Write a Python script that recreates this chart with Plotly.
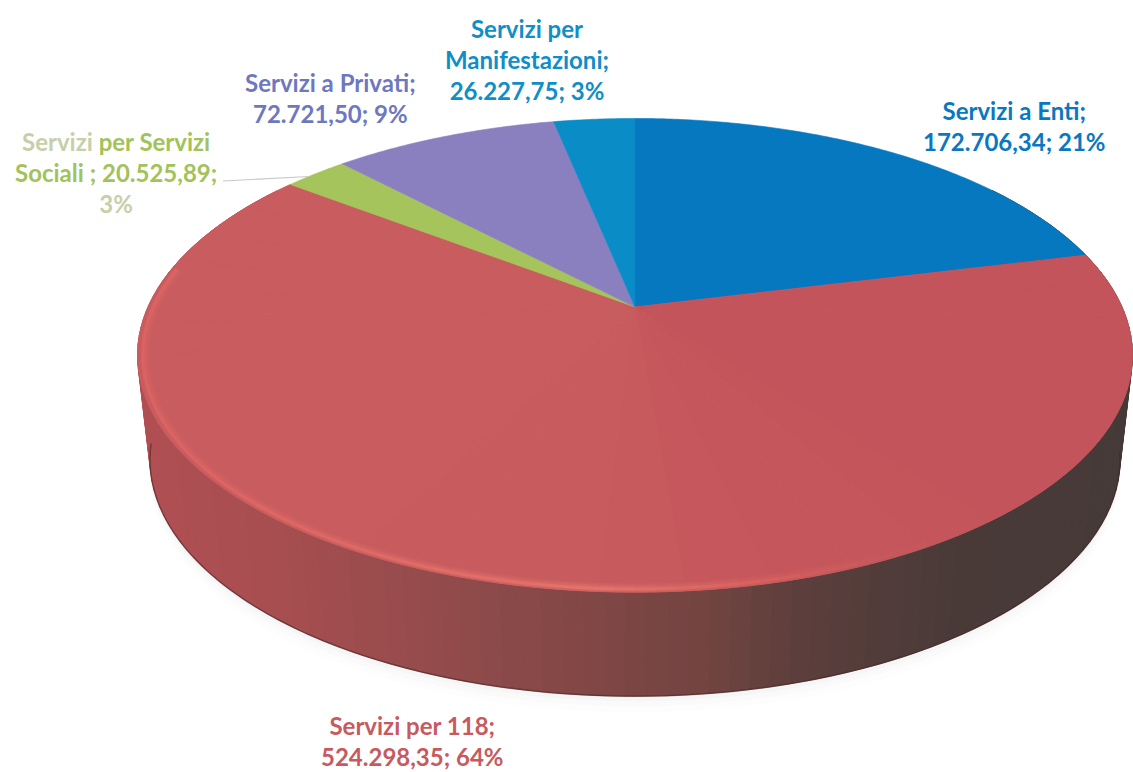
import numpy as np
import plotly.graph_objects as go

# ---- data ----
categories = ["Servizi a Enti", "Servizi per 118", "Servizi per Servizi Sociali ",
              "Servizi a Privati", "Servizi per Manifestazioni"]
values = [172706.34, 524298.35, 20525.89, 72721.50, 26227.75]
percent_labels = ["21%", "64%", "3%", "9%", "3%"]
slice_colors = ["#0578c0", "#c75a5e", "#a6c45c", "#8a80c0", "#0a8cc6"]
label_colors = ["#0a78c0", "#c75a5e", "#a2c25a", "#6d78c0", "#0f8ec8"]

# ---- layout of the tilted disc (pixels) ----
W, H = 1133, 772
CX, CY = 635, 307          # apex
RX, RY, PERSP = 487, 227, 0.204
DEPTH, BOTTOM_SCALE = 104, 0.975

wall_stops_x = [130, 300, 500, 700, 800, 950, 1133]
wall_stops_c = [(178, 80, 84), (165, 78, 80), (140, 74, 74), (116, 68, 65),
                (92, 63, 60), (74, 59, 57), (70, 58, 56)]
surface_stops_x = [135, 600, 900, 1133]
surface_stops_c = [(201, 93, 95), (199, 91, 94), (197, 86, 92), (196, 84, 91)]
rim_stops_x = [135, 300, 600, 760, 880]
rim_stops_c = [(224, 102, 102), (228, 108, 104), (238, 124, 110), (222, 100, 96), (199, 90, 94)]


def rim(t_deg, inset=1.0):
    t = np.radians(np.asarray(t_deg, dtype=float))
    u, v = np.sin(t), np.cos(t)
    d = 1 + PERSP * v
    return CX + inset * RX * u / d, CY - inset * RY * v / d


def lower(x, y):
    return CX + BOTTOM_SCALE * (x - CX), y + DEPTH


def mix(x, xs, cs):
    return tuple(np.interp(x, xs, [c[i] for c in cs]) for i in range(3))


def css(c):
    return "rgb(%d,%d,%d)" % tuple(c)


fig = go.Figure()


def add(x, y, color, width=0, fill=True):
    fig.add_trace(go.Scatter(
        x=np.asarray(x), y=np.asarray(y), mode="lines", hoverinfo="skip", showlegend=False,
        fill="toself" if fill else None, fillcolor=color if fill else None,
        line=dict(color=color, width=width, simplify=False)))


# soft shadow under the disc
tt = np.linspace(100, 262, 101)
for grow, alpha in [(16, .012), (10, .016), (5, .02)]:
    xb, yb = lower(*rim(tt))
    add(xb, yb + grow, "rgba(60,70,60,%s)" % alpha)

# side wall as narrow strips shaded from left to right
edges = np.linspace(55, 305, 126)
for a, b in zip(edges[:-1], edges[1:]):
    xt, yt = rim([a, b])
    xl, yl = lower(xt, yt)
    col = css(mix((xt.mean() + xl.mean()) / 2, wall_stops_x, wall_stops_c))
    add([xt[0], xt[1], xl[1], xl[0], xt[0]], [yt[0], yt[1], yl[1], yl[0], yt[0]], col, 1)

# dark lower edge
xb, yb = lower(*rim(np.linspace(100, 262, 100)))
add(xb, yb, "rgba(70,35,35,0.55)", 1.5, fill=False)

# top surface: slices from the values
fracs = np.array(values) / sum(values)
ends = np.cumsum(fracs) * 360
starts = ends - fracs * 360
for i, (s, e, col) in enumerate(zip(starts, ends, slice_colors)):
    if i == 1:
        # main slice: faint shading across the disc
        cuts = np.linspace(s, e, 29)
        for a, b in zip(cuts[:-1], cuts[1:]):
            xr, yr = rim(np.linspace(a, b, 8))
            c = css(mix(xr.mean(), surface_stops_x, surface_stops_c))
            add(np.r_[CX, xr, CX], np.r_[CY, yr, CY], c, 1.0)
    else:
        ts = np.linspace(s, e, max(3, int(e - s) * 2))
        xr, yr = rim(ts)
        add(np.r_[CX, xr, CX], np.r_[CY, yr, CY], col, 0.6)

# bevel highlight along the front rim, soft in three layers
ring = np.linspace(150, 280, 66)
for width, strength, inset in [(9, .18, .985), (6, .4, .987), (3, .75, .989)]:
    for a, b in zip(ring[:-1], ring[1:]):
        xr, yr = rim([a, b], inset)
        hi = np.array(mix(xr.mean(), rim_stops_x, rim_stops_c))
        base = np.array(mix(xr.mean(), surface_stops_x, surface_stops_c))
        add(xr, yr, css(base + strength * (hi - base)), width, fill=False)

# leader line to the small slice
mid_idx = 2
lx, ly = rim([(starts[mid_idx] + ends[mid_idx]) / 2 - 1.2])
add([223, lx[0]], [181, ly[0]], "rgb(200,200,196)", 1.2, fill=False)


def italian(v):
    return f"{v:,.2f}".replace(",", "#").replace(".", ",").replace("#", ".")


line_breaks = [
    "{0};<br>{1}; {2}",
    "{0};<br>{1}; {2}",
    None,
    "{0};<br>{1}; {2}",
    "Servizi per<br>Manifestazioni;<br>{1}; {2}",
]
label_pos = [(1014, 126), (412, 741), (116, 172), (330, 98), (527, 59)]

for i, (cat, val, pct, col, pos) in enumerate(zip(categories, values, percent_labels, label_colors, label_pos)):
    if line_breaks[i] is None:
        pale = "#c6d0a8"
        text = (f'<span style="color:{pale}">Servizi</span> per Servizi<br>'
                f'Sociali ; {italian(val)};<br><span style="color:{pale}">{pct}</span>')
    else:
        text = line_breaks[i].format(cat, italian(val), pct)
    fig.add_annotation(x=pos[0], y=pos[1], text=text, showarrow=False, align="center",
                       xanchor="center", yanchor="middle",
                       font=dict(family="Lato", size=24, color=col, weight=700))

fig.update_layout(
    width=W, height=H, margin=dict(l=0, r=0, t=0, b=0),
    paper_bgcolor="white", plot_bgcolor="white", showlegend=False,
    xaxis=dict(range=[0, W], visible=False, fixedrange=True),
    yaxis=dict(range=[H, 0], visible=False, fixedrange=True),
)
fig.write_html("out.html", config={"displayModeBar": False},
               post_script="document.body.style.margin='0';document.documentElement.style.overflow='hidden';")
